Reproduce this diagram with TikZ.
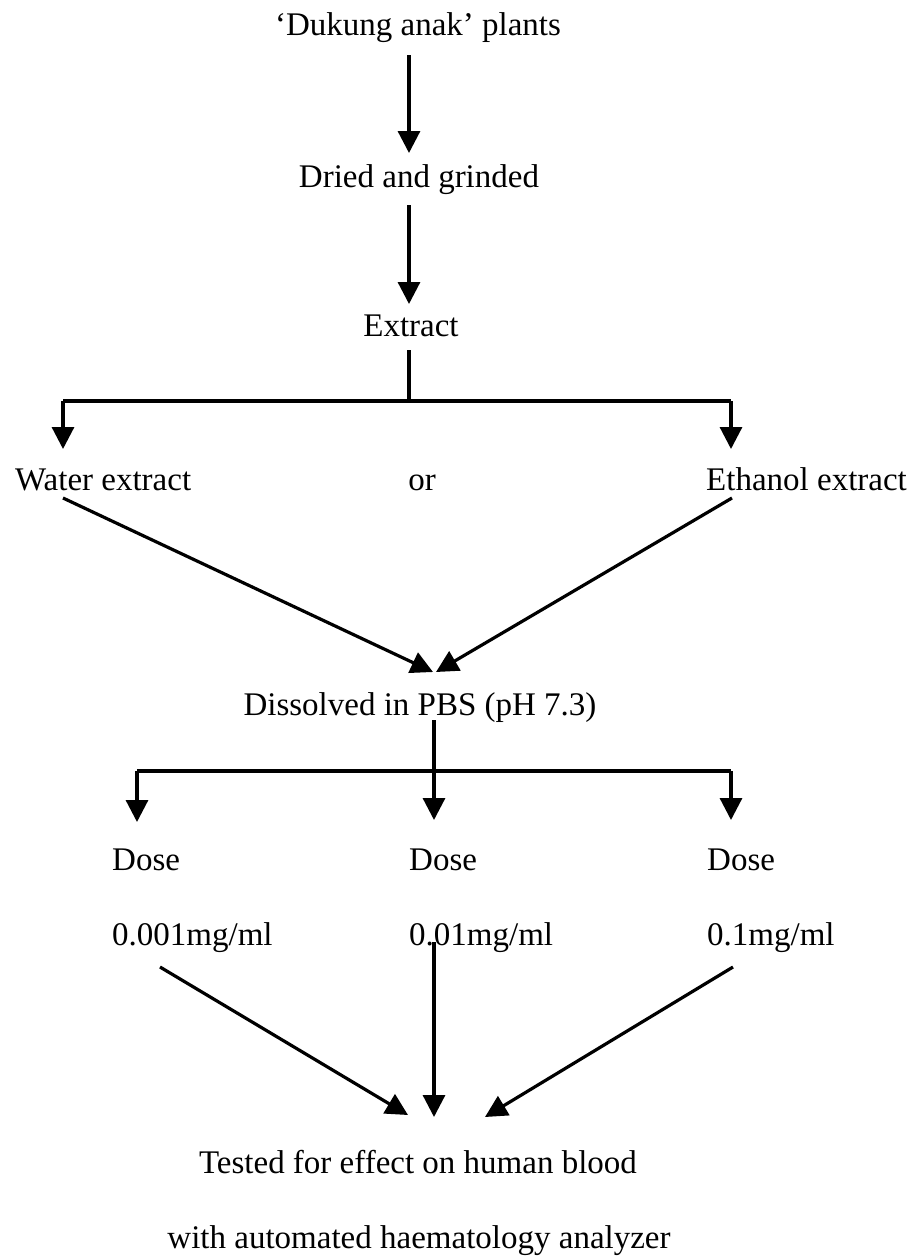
\documentclass[tikz,border=0pt]{standalone}
\usepackage{fontspec}
\setmainfont{Liberation Serif}
\usetikzlibrary{arrows.meta}
\begin{document}
\begin{tikzpicture}[x=1pt,y=-1pt,
  lbl/.style={inner sep=0pt,anchor=base,font=\fontsize{33}{40}\selectfont},
  lblw/.style={lbl,anchor=base west},
  conn/.style={line width=3.2pt},
  arr/.style={conn,-{Triangle[length=22pt,width=22pt]}}]
\useasboundingbox[fill=white] (0,0) rectangle (920,1259);
% texts
\node[lbl] (title) at (418,35) {‘Dukung anak’ plants};
\node[lbl] (dried) at (419,187) {Dried and grinded};
\node[lbl] (extract) at (411,336) {Extract};
\node[lblw] (water) at (15,490) {Water extract};
\node[lbl] (or) at (422,490) {or};
\node[lblw] (ethanol) at (706,490) {Ethanol extract};
\node[lbl] (pbs) at (420,715) {Dissolved in PBS (pH 7.3)};
\node[lblw] (dose1) at (112,870) {Dose};
\node[lblw] (dose2) at (409,870) {Dose};
\node[lblw] (dose3) at (707,870) {Dose};
\node[lblw] (c1) at (112,945) {0.001mg/ml};
\node[lblw] (c2) at (409,945) {0.01mg/ml};
\node[lblw] (c3) at (707,945) {0.1mg/ml};
\node[lbl] (tested) at (418,1173) {Tested for effect on human blood};
\node[lbl] (with) at (419,1248) {with automated haematology analyzer};
% connector points
\coordinate (t1) at (409,55);   \coordinate (d1) at (409,153);
\coordinate (t2) at (409,205);  \coordinate (d2) at (409,304);
\coordinate (e1) at (409,350);  \coordinate (e2) at (409,401);
\coordinate (bl) at (63,401);   \coordinate (br) at (731,401);
\coordinate (wl) at (63,449);   \coordinate (wr) at (731,449);
\coordinate (ws) at (63,498);   \coordinate (es) at (732,498);
\coordinate (pl) at (433,672);  \coordinate (pr) at (436,672);
\coordinate (p1) at (434,720);  \coordinate (p2) at (434,771);
\coordinate (hl) at (137,771);  \coordinate (hr) at (731,771);
\coordinate (q1) at (137,822);  \coordinate (q2) at (434,820);  \coordinate (q3) at (731,820);
\coordinate (s1) at (160,967);  \coordinate (s2) at (434,942);  \coordinate (s3) at (733,967);
\coordinate (f1) at (408,1115); \coordinate (f2) at (434,1117); \coordinate (f3) at (485,1117);
% connectors
\draw[arr] (t1) -- (d1);
\draw[arr] (t2) -- (d2);
\draw[conn] (e1) -- (e2);
\draw[conn] (bl) -- (br);
\draw[arr] (bl) -- (wl);
\draw[arr] (br) -- (wr);
\draw[arr] (ws) -- (pl);
\draw[arr] (es) -- (pr);
\draw[conn] (hl) -- (hr);
\draw[arr] (p1) -- (q2);
\draw[arr] (hl) -- (q1);
\draw[arr] (hr) -- (q3);
\draw[arr] (s1) -- (f1);
\draw[arr] (s2) -- (f2);
\draw[arr] (s3) -- (f3);
\end{tikzpicture}
\end{document}
